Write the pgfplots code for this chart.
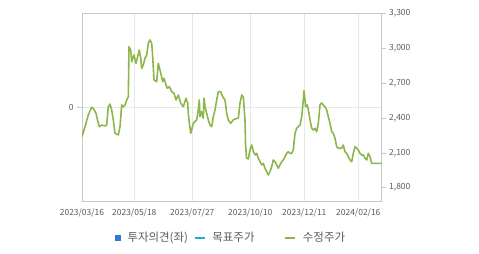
\documentclass[border=0pt]{standalone}
\usepackage{fontspec}
\setmainfont{Noto Sans CJK KR}
\usepackage{pgfplots}
\pgfplotsset{compat=1.18}
\definecolor{lineg}{RGB}{141,182,74}
\definecolor{myblue}{RGB}{46,122,214}
\definecolor{mycyan}{RGB}{40,170,196}
\definecolor{txt}{RGB}{90,90,90}
\definecolor{gridc}{RGB}{232,232,232}
\definecolor{axc}{RGB}{200,200,200}
\begin{document}
\begin{tikzpicture}
\path[use as bounding box] (-82bp,-53bp) rectangle (397bp,201bp);
\begin{axis}[
  at={(0,0)}, anchor=south west, scale only axis,
  width=299.7bp, height=187.3bp,
  xmin=0, xmax=299.7, ymin=-1, ymax=1,
  xtick={0,52.3,110.3,168.3,222.3,276.3},
  xticklabels={2023/03/16,2023/05/18,2023/07/27,2023/10/10,2023/12/11,2024/02/16},
  ytick={0},
  xtick pos=bottom, ytick pos=left,
  xmajorgrids, ymajorgrids,
  grid style={gridc, line width=0.6pt},
  axis line style={axc, line width=0.8pt},
  tick align=outside,
  x tick style={draw=none},
  y tick style={axc, line width=0.6pt},
  major tick length=5bp,
  tick label style={font=\fontsize{8.5}{10}\selectfont, text=txt},
  /pgf/number format/assume math mode=true,
  xticklabel style={yshift=1bp},
]
\end{axis}
\begin{axis}[
  at={(0,0)}, anchor=south west, scale only axis,
  width=299.7bp, height=187.3bp,
  xmin=0, xmax=299.7, ymin=1685, ymax=3300,
  axis y line*=right, axis x line=none,
  ytick={1800,2100,2400,2700,3000,3300},
  axis line style={axc, line width=0.8pt},
  tick align=outside,
  y tick style={axc, line width=0.6pt},
  major tick length=4bp,
  tick label style={font=\fontsize{8.5}{10}\selectfont, text=txt},
  /pgf/number format/assume math mode=true,
  /pgf/number format/1000 sep={,},
  scaled y ticks=false,
  legend style={at={(0.497,-0.197)}, anchor=center, draw=none, fill=none,
    font=\fontsize{11.5}{13}\selectfont, text=txt, legend columns=3,
    /tikz/every odd column/.append style={column sep=5bp},
    /tikz/every even column/.append style={column sep=4bp},
    inner sep=0pt},
  legend cell align=left,
]
\addlegendimage{legend image code/.code={\fill[myblue] (0bp,-2.7bp) rectangle (5.4bp,2.7bp);}}
\addlegendentry{투자의견(좌)}
\addlegendimage{legend image code/.code={\draw[mycyan, line width=1.4pt] (0bp,0bp) -- (10bp,0bp);}}
\addlegendentry{목표주가\hbox to 24bp{}}
\addplot[lineg, line width=1.6pt, line join=round,
  legend image code/.code={\draw[lineg, line width=1.4pt] (0bp,0bp) -- (10bp,0bp);}] coordinates {
(0,2240)(3,2326)(6.3,2427)(9.7,2493)(11.3,2484)(14,2441)(16.3,2355)(17.3,2326)
(19.7,2340)(23,2332)(24.7,2340)(26.3,2498)(28,2521)(29.7,2470)(31.3,2384)(33,2269)
(36.3,2254)(38,2326)(39.7,2513)(41.3,2498)(43,2513)(44.7,2556)(46.3,2584)(47,3016)
(48.7,2987)(49.7,2886)(52,2944)(54,2872)(55.3,2916)(57.3,2987)(58.7,2916)(59.7,2829)
(61.3,2858)(63,2916)(64.7,2944)(66.3,3045)(68,3073)(69.7,3045)(70.7,2929)(72,2728)
(74.7,2714)(76.3,2872)(78,2815)(80.7,2714)(82,2743)(84,2685)(85.3,2657)(87.3,2671)
(89.7,2628)(92,2614)(94,2556)(96.3,2599)(98.7,2528)(101.3,2498)(104,2571)(105.7,2528)
(106.5,2418)(108.7,2269)(109.7,2297)(111.3,2355)(114.7,2384)(116.3,2470)(117.3,2556)
(118,2412)(119.7,2455)(121.3,2398)(122,2571)(123,2498)(124.7,2441)(126.3,2384)
(128,2340)(129.7,2326)(131.3,2412)(133,2470)(134.7,2556)(136.3,2628)(138.7,2628)
(140.7,2584)(143,2556)(144.7,2441)(146.3,2384)(148.7,2355)(151.3,2384)(154.7,2398)
(156.3,2398)(158,2528)(159.7,2599)(161.3,2584)(163,2384)(163.5,2183)(164.5,2056)
(166.3,2047)(168,2125)(169.7,2168)(171.3,2116)(173,2082)(174.7,2096)(176.3,2053)
(178,2024)(179.7,1996)(181.3,2010)(183,1967)(184.7,1938)(186.3,1909)(188,1938)
(189.7,1981)(191.3,2039)(193,2024)(194.7,1996)(196.3,1967)(198,1996)(199.7,2024)
(201.3,2039)(203,2067)(204.7,2096)(206.3,2110)(208,2096)(209.7,2096)(211.3,2125)
(213,2269)(214.7,2312)(216.3,2326)(218,2340)(219.7,2412)(221.3,2556)(222,2636)
(223.7,2498)(225.3,2513)(227,2441)(228,2384)(229.7,2312)(231.3,2297)(233,2312)
(234.7,2283)(236.3,2355)(238,2513)(239.7,2530)(241.3,2513)(243,2498)(244.7,2470)
(246.3,2412)(248,2355)(249.7,2283)(251.3,2269)(253,2226)(254.7,2153)(256.3,2140)
(259.7,2140)(261.3,2168)(263,2110)(264.7,2096)(266.3,2067)(268,2039)(269.7,2024)
(271.3,2096)(273,2153)(274.7,2140)(276.3,2125)(278,2096)(279.7,2082)(281.3,2082)
(283,2053)(284.7,2039)(286.3,2096)(288,2067)(289.7,2010)(293,2010)(299.7,2010)
};
\addlegendentry{수정주가}
\end{axis}
\end{tikzpicture}
\end{document}
